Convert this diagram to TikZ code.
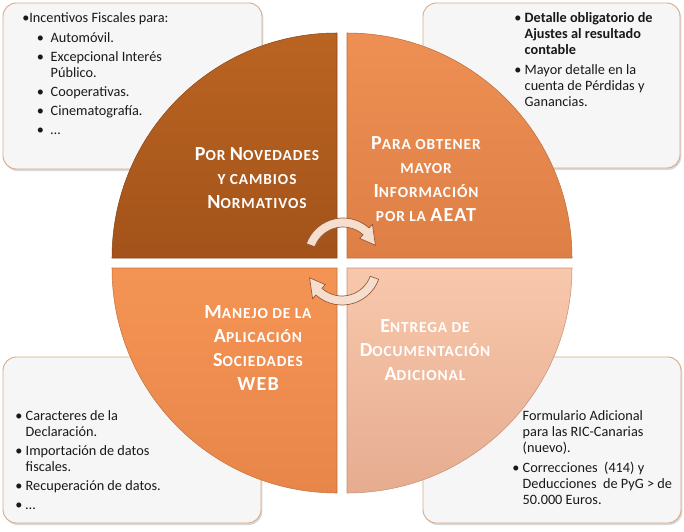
\documentclass[tikz,border=0pt]{standalone}
\usepackage{fontspec}
\setmainfont{Carlito}
\usetikzlibrary{shadows}
\definecolor{boxfill}{RGB}{246,246,246}
\definecolor{boxline}{RGB}{214,172,140}
\definecolor{txt}{RGB}{25,25,25}
\definecolor{quadA}{RGB}{186,100,34}
\definecolor{quadAb}{RGB}{163,83,26}
\definecolor{quadB}{RGB}{238,144,84}
\definecolor{quadBb}{RGB}{222,128,70}
\definecolor{quadC}{RGB}{244,148,84}
\definecolor{quadCb}{RGB}{232,134,74}
\definecolor{quadD}{RGB}{248,200,172}
\definecolor{quadDb}{RGB}{230,172,144}
\definecolor{arrowfill}{RGB}{246,222,206}
\definecolor{arrowline}{RGB}{150,86,50}
\newcommand\capl[1]{{\fontsize{15}{18}\selectfont #1}}
\begin{document}
\begin{tikzpicture}[x=0.75pt,y=0.75pt,
  frame/.style={draw=boxline,fill=boxfill,line width=0.7pt,rounded corners=10pt,
    drop shadow={shadow xshift=1pt,shadow yshift=-1.5pt,opacity=0.3}},
  quad/.style={top color=#1,bottom color=#1b,draw=#1b!85!black,line width=0.4pt},
  boxtext/.style={font=\fontsize{10.7}{12}\selectfont,text=txt,inner sep=0pt,anchor=base west},
  lbl/.style={font=\bfseries\fontsize{11.5}{18}\selectfont\addfontfeature{LetterSpace=6},text=white,align=center},
  turn/.style={fill=arrowfill,draw=arrowline,line width=0.5pt}]
\useasboundingbox (0,0) rectangle (684,-531);
\draw[frame] (3,-3) rectangle (262,-169);
\draw[frame] (423,-3) rectangle (680,-168);
\draw[frame] (3,-357) rectangle (261,-523);
\draw[frame] (423,-357) rectangle (681,-523);
\node[boxtext] (tlbox) at (22,-23) {\begin{tabular}[t]{@{}l@{\hspace{5pt}}l@{}}
\multicolumn{2}{@{}l@{}}{•Incentivos Fiscales para:}\\[2.3pt]
\hspace{11pt}• & Automóvil.\\[2.3pt]
\hspace{11pt}• & Excepcional Interés\\
 & Público.\\[2.3pt]
\hspace{11pt}• & Cooperativas.\\[2.3pt]
\hspace{11pt}• & Cinematografía.\\[2.3pt]
\hspace{11pt}• & …
\end{tabular}};
\node[boxtext] (trbox) at (514,-23) {\begin{tabular}[t]{@{}l@{\hspace{2.5pt}}l@{}}
• & \textbf{Detalle obligatorio de}\\
 & \textbf{Ajustes al resultado}\\
 & \textbf{contable}\\[3pt]
• & Mayor detalle en la\\
 & cuenta de Pérdidas y\\
 & Ganancias.
\end{tabular}};
\node[boxtext] (blbox) at (15,-420) {\begin{tabular}[t]{@{}l@{\hspace{2.5pt}}l@{}}
• & Caracteres de la\\
 & Declaración.\\[2.3pt]
• & Importación de datos\\
 & fiscales.\\[2.3pt]
• & Recuperación de datos.\\[2.3pt]
• & …
\end{tabular}};
\node[boxtext] (brbox) at (512,-420) {\begin{tabular}[t]{@{}l@{\hspace{2.5pt}}l@{}}
 & Formulario Adicional\\
 & para las RIC-Canarias\\
 & (nuevo).\\[3pt]
• & Correcciones\ \ (414) y\\
 & Deducciones\ \ de PyG > de\\
 & 50.000 Euros.
\end{tabular}};
\draw[quad=quadA] (337,-258) -- ++(-225,0) arc[start angle=180,end angle=90,radius=225] -- cycle;
\draw[quad=quadB] (347,-258) -- ++(0,225) arc[start angle=90,end angle=0,radius=225] -- cycle;
\draw[quad=quadC] (337,-268) -- ++(-225,0) arc[start angle=180,end angle=270,radius=225] -- cycle;
\draw[quad=quadD] (347,-268) -- ++(0,-225) arc[start angle=270,end angle=360,radius=225] -- cycle;
\node[lbl] (novedades) at (257,-178) {\capl{P}OR \capl{N}OVEDADES\\Y CAMBIOS\\\capl{N}ORMATIVOS};
\node[lbl] (informacion) at (426,-179) {\capl{P}ARA OBTENER\\MAYOR\\\capl{I}NFORMACIÓN\\POR LA \capl{AEAT}};
\node[lbl] (manejo) at (258,-348) {\capl{M}ANEJO DE LA\\\capl{A}PLICACIÓN\\\capl{S}OCIEDADES\\\capl{WEB}};
\node[lbl] (entrega) at (425,-350) {\capl{E}NTREGA DE\\\capl{D}OCUMENTACIÓN\\\capl{A}DICIONAL};
\draw[turn,shift={(343,-257)}] (160:39) arc[start angle=160,end angle=48,radius=39]
  -- (48:44) -- (20:34.5) -- (48:25) -- (48:30) arc[start angle=48,end angle=160,radius=30] -- cycle;
\draw[turn,shift={(342,-266)}] (-20:39) arc[start angle=-20,end angle=-132,radius=39]
  -- (-132:44) -- (-160:34.5) -- (-132:25) -- (-132:30) arc[start angle=-132,end angle=-20,radius=30] -- cycle;
\end{tikzpicture}
\end{document}
